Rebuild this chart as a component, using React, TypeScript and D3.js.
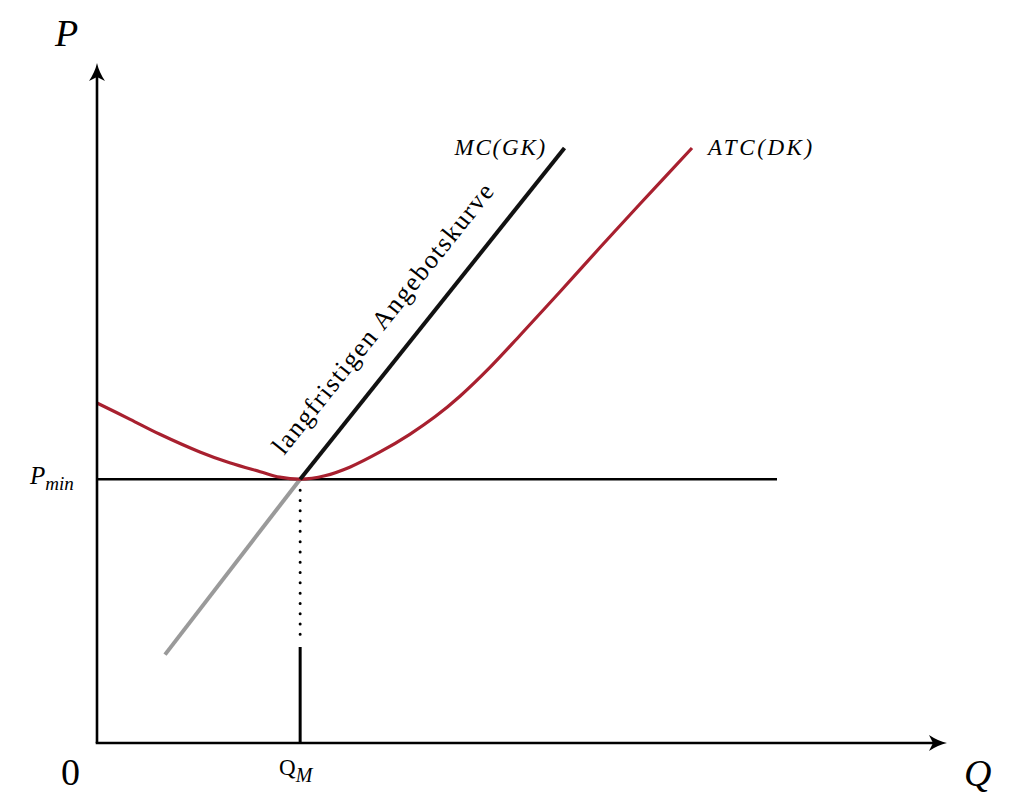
import React from "react";
import * as d3 from "d3";

// ---- data (economic units) ----
const atcQ = [0, 0.39, 0.74, 1.21, 1.56, 1.92, 2.15, 2.39, 2.68, 2.98, 3.33, 3.68, 3.98, 4.27, 4.62, 4.98, 5.45, 5.92, 6.39, 7.0];
const atcP = [5.0, 4.76, 4.54, 4.28, 4.12, 3.99, 3.91, 3.88, 3.93, 4.06, 4.28, 4.54, 4.80, 5.10, 5.52, 6.00, 6.64, 7.29, 7.93, 8.75];
const mcGrayQ = [0.8, 2.39];
const mcGrayP = [1.3, 3.88];
const mcBlackQ = [2.39, 5.5];
const mcBlackP = [3.88, 8.75];
const QM = 2.39;
const PMIN = 3.88;
const PMIN_LINE_END = 8.0;
const labels = {
  p: "P",
  q: "Q",
  zero: "0",
  mc: "MC(GK)",
  atc: "ATC(DK)",
  supply: "langfristigen Angebotskurve",
};

const W = 1015;
const H = 810;
const x = d3.scaleLinear().domain([0, 10]).range([97, 947]);
const y = d3.scaleLinear().domain([0, 10]).range([743, 63]);

const RED = "#a8202f";
const FONT = "'Liberation Serif', 'DejaVu Serif', serif";

function Arrow({ tx, ty, angle }: { tx: number; ty: number; angle: number }) {
  return (
    <path
      d="M0,0 Q2,9 8,18 L0,14 L-8,18 Q-2,9 0,0 Z"
      fill="#000"
      transform={`translate(${tx},${ty}) rotate(${angle})`}
    />
  );
}

export default function App() {
  const line = d3
    .line<[number, number]>()
    .x((d) => x(d[0]))
    .y((d) => y(d[1]))
    .curve(d3.curveCatmullRom.alpha(0.5));
  const atcPts: [number, number][] = atcQ.map((q, i) => [q, atcP[i]]);

  const gx0 = x(mcGrayQ[0]), gy0 = y(mcGrayP[0]);
  const gx1 = x(mcGrayQ[1]), gy1 = y(mcGrayP[1]);
  const bx0 = x(mcBlackQ[0]), by0 = y(mcBlackP[0]);
  const bx1 = x(mcBlackQ[1]), by1 = y(mcBlackP[1]);

  const dx = bx1 - bx0, dy = by1 - by0;
  const len = Math.hypot(dx, dy);
  const ux = dx / len, uy = dy / len;
  const nx = uy, ny = -ux;
  const ang = (Math.atan2(dy, dx) * 180) / Math.PI;
  const along = 8, off = 27;
  const lx = bx0 + ux * along + nx * off;
  const ly = by0 + uy * along + ny * off;

  const x0 = x(0), y0 = y(0);
  const qmX = x(QM), pminY = y(PMIN);

  return (
    <svg
      width={W}
      height={H}
      style={{ position: "absolute", left: 0, top: 0, background: "#fff" }}
    >
      <line x1={x0} x2={x(PMIN_LINE_END)} y1={pminY} y2={pminY} stroke="#000" strokeWidth={2.5} />
      <line x1={qmX} x2={qmX} y1={pminY + 11} y2={638} stroke="#000" strokeWidth={3} strokeDasharray="0 10.3" strokeLinecap="round" />
      <line x1={qmX} x2={qmX} y1={647} y2={y0} stroke="#000" strokeWidth={3} />

      <line x1={gx0} y1={gy0} x2={gx1} y2={gy1} stroke="#9a9a9a" strokeWidth={4} />
      <path d={line(atcPts) || ""} fill="none" stroke={RED} strokeWidth={3.2} />
      <line x1={bx0} y1={by0} x2={bx1} y2={by1} stroke="#111" strokeWidth={4} />

      <line x1={x0} y1={y0} x2={x0} y2={y(10) + 12} stroke="#000" strokeWidth={2.6} />
      <line x1={x0 - 1.3} y1={y0} x2={x(10) - 12} y2={y0} stroke="#000" strokeWidth={2.6} />
      <Arrow tx={x0} ty={y(10)} angle={0} />
      <Arrow tx={x(10)} ty={y0} angle={90} />

      <text x={55} y={46} fontFamily={FONT} fontStyle="italic" fontSize={38}>{labels.p}</text>
      <text x={61} y={785} fontFamily={FONT} fontSize={38}>{labels.zero}</text>
      <text x={964} y={786} fontFamily={FONT} fontStyle="italic" fontSize={38}>{labels.q}</text>

      <text x={30} y={484} fontFamily={FONT} fontStyle="italic" fontSize={25}>
        P<tspan fontSize={19} dy={6}>min</tspan>
      </text>
      <text x={279} y={775} fontFamily={FONT} fontSize={23}>
        Q<tspan fontStyle="italic" fontSize={20} dy={7}>M</tspan>
      </text>

      <text x={547} y={155} textAnchor="end" fontFamily={FONT} fontStyle="italic" fontSize={23} letterSpacing={1.8}>{labels.mc}</text>
      <text x={708} y={155} fontFamily={FONT} fontStyle="italic" fontSize={23} letterSpacing={2.6}>{labels.atc}</text>

      <text
        x={0}
        y={0}
        transform={`translate(${lx},${ly}) rotate(${ang})`}
        fontFamily={FONT}
        fontSize={26}
        textLength={338}
        lengthAdjust="spacing"
      >
        {labels.supply}
      </text>
    </svg>
  );
}
